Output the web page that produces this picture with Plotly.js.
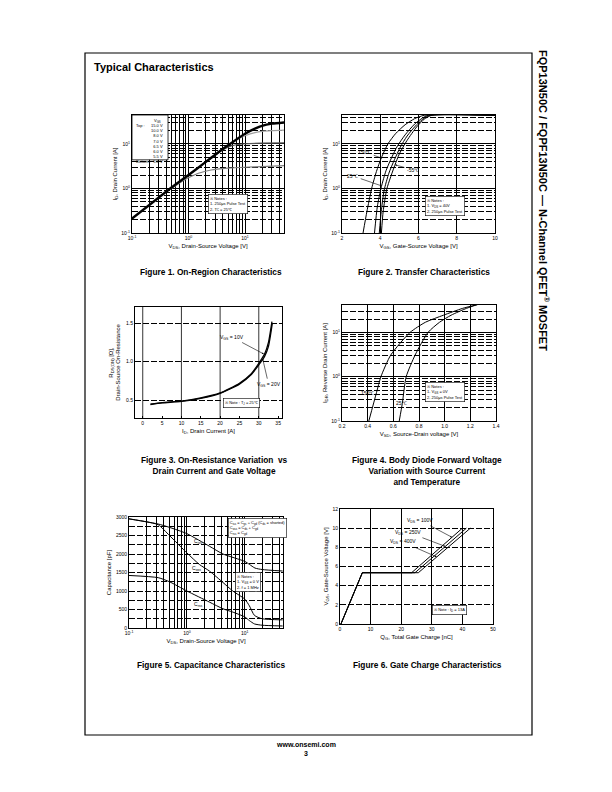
<!DOCTYPE html>
<html><head><meta charset="utf-8">
<script src="https://cdn.plot.ly/plotly-3.0.1.min.js"></script>
<style>html,body{margin:0;padding:0;background:#fff}#chart{width:612px;height:792px}</style>
</head><body><div id="chart"></div>
<script>
// ---------- DATA ----------
// Figure 1: On-Region characteristics (VGS curves)
const f1_vgs = ['15.0 V','10.0 V','8.0 V','7.0 V','6.5 V','6.0 V','5.5 V','5.0 V'];
const f1_top_x = [0.1,0.2,0.5,1,2,3,5,10,15,20,30,50];
const f1_top_y = [0.21,0.42,1.05,2.0,3.9,5.8,9.3,17,22,25.5,28.5,30.5];
const f1_c2_x = [3,5,7,10,15,20,30,50];
const f1_c2_y = [5.8,9.2,12.5,15.3,18,19.2,19.9,20.4];
const f1_c3_x = [2,3,4,5,7,10,20,50];
const f1_c3_y = [3.9,5.6,7.3,8.5,9.6,10.1,10.4,10.6];
const f1_c4_x = [0.5,0.8,1,1.5,2.5,5,10,20,50];
const f1_c4_y = [1.0,1.5,1.75,2.2,2.6,2.85,3.0,3.1,3.25];

// Figure 2: Transfer characteristics
const f2_150_x = [3.1,3.3,3.55,3.8,4.05,4.4,4.8,5.3,5.8,6.3,10];
const f2_150_y = [0.1,0.3,1,2.4,4.8,10,17,27,37,44,44];
const f2_25_x = [3.7,3.85,4.06,4.3,4.6,4.9,5.3,5.8,6.2,6.5,10];
const f2_25_y = [0.1,0.4,1.1,2.5,5,9,16,28,38,44,44];
const f2_25b_x = [3.95,4.05,4.2,4.45,4.75,5.05,5.4,5.9,6.3,6.6,10];
const f2_25b_y = [0.1,0.3,0.9,2.2,4.5,8.5,15,27,38,44,44];
const f2_m55_x = [4.06,4.15,4.35,4.76,5.0,5.4,5.9,6.3,6.7,10];
const f2_m55_y = [0.1,0.3,1.0,3.3,6,12,24,36,44,44];

// Figure 3: On-resistance vs drain current
const f3_10_x = [2,5,10,15,20,25,28,30,31.5,32.5,33.4];
const f3_10_y = [0.45,0.47,0.49,0.53,0.595,0.72,0.84,0.98,1.1,1.25,1.52];
const f3_20_x = [2,5,10,15,20,25,28,30,31.5,32.5,33.5];
const f3_20_y = [0.445,0.465,0.485,0.525,0.59,0.71,0.83,0.96,1.07,1.2,1.5];

// Figure 4: Body diode forward voltage
const f4_150_x = [0.409,0.469,0.503,0.58,0.73,0.85,0.99,1.14,1.26];
const f4_150_y = [0.1,0.44,1.0,3.1,10,17,24.5,35,43];
const f4_25_x = [0.646,0.67,0.70,0.77,0.87,0.96,1.05,1.17,1.26];
const f4_25_y = [0.1,0.25,1.0,3.1,10,17,24.5,35,43];

// Figure 5: Capacitance
const f5_ciss_x = [0.1,0.2,0.32,0.5,1,2.45,4.2,10,12,15,20,45];
const f5_ciss_y = [2950,2870,2810,2720,2550,2210,2000,1800,1720,1620,1580,1540];
const f5_coss_x = [0.1,0.2,0.32,0.5,1,1.65,2.45,4.2,6.2,10,12,14.7,20,45];
const f5_coss_y = [2950,2870,2790,2500,2030,1715,1540,1230,1000,780,600,340,250,220];
const f5_crss_x = [0.1,0.32,0.5,1,2.45,4.2,6.2,10,12,14.7,20,45];
const f5_crss_y = [1420,1360,1250,1000,700,520,430,300,200,110,75,55];

// Figure 6: Gate charge
const f6_100_x = [0.3,7.3,23.4,40];
const f6_100_y = [0,5.35,5.35,10];
const f6_250_x = [0.3,7.3,24.5,41.3];
const f6_250_y = [0,5.35,5.35,10];
const f6_400_x = [0.3,7.3,25.6,42.6];
const f6_400_y = [0,5.35,5.35,10];

// ---------- LAYOUT HELPERS ----------
const W=612,H=792;
const FONT='Liberation Sans, Arial, sans-serif';
const dx=(a,b)=>[a/W,b/W];
const dy=(top,bottom)=>[1-bottom/H,1-top/H];
const DASH='6px,2px';
const logMinor=(lo,hi)=>{const v=[];for(let e=lo;e<hi;e++){for(let m=2;m<=9;m++)v.push(m*Math.pow(10,e));}return v;};
const decTicks={tickvals:[0.1,1,10],ticktext:['10<sup>-1</sup>','10<sup>0</sup>','10<sup>1</sup>']};
function ax(o){
  return Object.assign({showline:true,mirror:true,linecolor:'#000',linewidth:1,ticks:'inside',ticklen:2,tickcolor:'#000',
    zeroline:false,tickfont:{family:FONT,size:5,color:'#000'},showgrid:true,gridcolor:'#000',gridwidth:0.8,
    tickmode:'array',fixedrange:true},o);
}
function ttl(t,s){return {text:t,font:{family:FONT,size:6,color:'#000'},standoff:s||3};}

function line(x,y,xa,ya,color,width){
  return {type:'scatter',mode:'lines',x:x,y:y,xaxis:xa,yaxis:ya,line:{color:color||'#000',width:width||1,shape:'spline',smoothing:0.6},hoverinfo:'skip',showlegend:false};
}

const traces=[
  line(f1_c4_x,f1_c4_y,'x','y','#808080',1.2),
  line(f1_c3_x,f1_c3_y,'x','y','#555',1.2),
  line(f1_c2_x,f1_c2_y,'x','y','#a0a0a0',1.2),
  line(f1_top_x,f1_top_y,'x','y','#000',2.4),
  line(f2_150_x,f2_150_y,'x2','y2'),
  line(f2_25_x,f2_25_y,'x2','y2'),
  line(f2_25b_x,f2_25b_y,'x2','y2'),
  line(f2_m55_x,f2_m55_y,'x2','y2'),
  line(f3_20_x,f3_20_y,'x3','y3','#000',1.3),
  line(f3_10_x,f3_10_y,'x3','y3','#000',1.3),
  line(f4_150_x,f4_150_y,'x4','y4'),
  line(f4_25_x,f4_25_y,'x4','y4'),
  line(f5_ciss_x,f5_ciss_y,'x5','y5'),
  line(f5_coss_x,f5_coss_y,'x5','y5'),
  line(f5_crss_x,f5_crss_y,'x5','y5'),
  {type:'scatter',mode:'lines',x:f6_100_x,y:f6_100_y,xaxis:'x6',yaxis:'y6',line:{color:'#000',width:1},hoverinfo:'skip',showlegend:false},
  {type:'scatter',mode:'lines',x:f6_250_x,y:f6_250_y,xaxis:'x6',yaxis:'y6',line:{color:'#000',width:1},hoverinfo:'skip',showlegend:false},
  {type:'scatter',mode:'lines',x:f6_400_x,y:f6_400_y,xaxis:'x6',yaxis:'y6',line:{color:'#000',width:1},hoverinfo:'skip',showlegend:false}
];

const minorSolid=(v)=>({tickvals:v,showgrid:true,gridcolor:'#000',gridwidth:0.8,ticks:''});
const minorDash=(v)=>({tickvals:v,showgrid:true,gridcolor:'#000',gridwidth:0.8,griddash:DASH,ticks:''});

const layout={
  width:W,height:H,margin:{l:0,r:0,t:0,b:0},paper_bgcolor:'#fff',plot_bgcolor:'#fff',showlegend:false,
  font:{family:FONT,color:'#000',size:6},
  // Fig 1
  xaxis:ax(Object.assign({type:'log',range:[-1,1.69],domain:dx(132,284),anchor:'y',minor:minorSolid(logMinor(-1,2)),
    title:ttl('V<sub>DS</sub>, Drain-Source Voltage [V]')},decTicks)),
  yaxis:ax(Object.assign({type:'log',range:[-1,1.65],domain:dy(115,233),anchor:'x',minor:minorDash(logMinor(-1,2)),
    title:ttl('I<sub>D</sub>, Drain Current [A]')},decTicks)),
  // Fig 2
  xaxis2:ax({range:[2,10],domain:dx(342,495),anchor:'y2',tickvals:[2,4,6,8,10],title:ttl('V<sub>GS</sub>, Gate-Source Voltage [V]')}),
  yaxis2:ax(Object.assign({type:'log',range:[-1,1.65],domain:dy(115,233),anchor:'x2',minor:minorDash(logMinor(-1,2)),
    title:ttl('I<sub>D</sub>, Drain Current [A]')},decTicks)),
  // Fig 3
  xaxis3:ax({range:[-2,36],domain:dx(135,282),anchor:'y3',tickvals:[0,5,10,15,20,25,30,35],showgrid:false,
    title:ttl('I<sub>D</sub>, Drain Current [A]')}),
  yaxis3:ax({range:[0.27,1.71],domain:dy(307,418),anchor:'x3',tickvals:[0.5,1.0,1.5],ticktext:['0.5','1.0','1.5'],griddash:DASH,
    title:ttl('R<sub>DS(ON)</sub> [Ω],<br>Drain-Source On-Resistance',4)}),
  // Fig 4
  xaxis4:ax({range:[0.2,1.4],domain:dx(342,496),anchor:'y4',tickvals:[0.2,0.4,0.6,0.8,1.0,1.2,1.4],
    ticktext:['0.2','0.4','0.6','0.8','1.0','1.2','1.4'],title:ttl('V<sub>SD</sub>, Source-Drain voltage [V]')}),
  yaxis4:ax(Object.assign({type:'log',range:[-1,1.62],domain:dy(305,421),anchor:'x4',minor:minorDash(logMinor(-1,2)),
    title:ttl('I<sub>DR</sub>, Reverse Drain Current [A]')},decTicks)),
  // Fig 5
  xaxis5:ax(Object.assign({type:'log',range:[-1,1.66],domain:dx(129,283),anchor:'y5',minor:minorSolid(logMinor(-1,2)),
    title:ttl('V<sub>DS</sub>, Drain-Source Voltage [V]')},decTicks)),
  yaxis5:ax({range:[0,3000],domain:dy(517,628),anchor:'x5',tickvals:[0,500,1000,1500,2000,2500,3000],griddash:DASH,
    minor:minorDash([250,750,1250,1750,2250,2750]),title:ttl('Capacitance [pF]')}),
  // Fig 6
  xaxis6:ax({range:[0,50],domain:dx(340,493),anchor:'y6',tickvals:[0,10,20,30,40,50],title:ttl('Q<sub>G</sub>, Total Gate Charge [nC]')}),
  yaxis6:ax({range:[0,12],domain:dy(509,624),anchor:'x6',tickvals:[0,2,4,6,8,10,12],griddash:DASH,
    title:ttl('V<sub>GS</sub>, Gate-Source Voltage [V]')}),
  shapes:[],annotations:[]
};

// page frame
layout.shapes.push({type:'rect',xref:'paper',yref:'paper',x0:85/W,x1:532/W,y0:1-735/H,y1:1-53/H,line:{color:'#000',width:1.2}});
// fig3 vertical grid lines every 10 A
[0,10,20,30].forEach(v=>layout.shapes.push({type:'line',xref:'x3',yref:'y3 domain',x0:v,x1:v,y0:0,y1:1,line:{color:'#000',width:0.8},layer:'below'}));
// fig1 legend box
layout.shapes.push({type:'rect',xref:'x domain',yref:'y domain',x0:0,x1:0.237,y0:0.62,y1:1,fillcolor:'#fff',line:{color:'#000',width:0.8}});

const A=layout.annotations;
const tf=(s)=>({family:FONT,size:s,color:'#000'});
function note(xr,yr,x,y,text,size){
  A.push({xref:xr,yref:yr,x:x,y:y,text:text,showarrow:false,align:'left',font:tf(size||4),bgcolor:'#fff',bordercolor:'#000',borderwidth:0.6,borderpad:1.5});
}
function label(xr,yr,x,y,text,axp,ayp,size){
  A.push({xref:xr,yref:yr,x:x,y:y,text:text,showarrow:true,ax:axp,ay:ayp,arrowhead:2,arrowsize:0.6,arrowwidth:0.6,arrowcolor:'#000',font:tf(size||5),standoff:0,startstandoff:1});
}
// Fig 1 legend
A.push({xref:'x domain',yref:'y domain',x:0.165,y:0.995,xanchor:'center',yanchor:'top',text:'V<sub>GS</sub>',showarrow:false,font:tf(4)});
A.push({xref:'x domain',yref:'y domain',x:0.215,y:0.95,xanchor:'right',yanchor:'top',text:f1_vgs.join('<br>'),showarrow:false,align:'right',font:tf(4)});
A.push({xref:'x domain',yref:'y domain',x:0.012,y:0.95,xanchor:'left',yanchor:'top',text:'Top :<br> <br> <br> <br> <br> <br> <br>Bottom :',showarrow:false,align:'left',font:tf(4)});
note('x domain','y domain',0.76,0.16,'※ Notes :<br>1. 250μs Pulse Test<br>2. T<sub>C</sub> = 25℃');
// Fig 2
label('x2','y2',4.08,Math.log10(4.8),'150℃',-17,-6);
label('x2','y2',4.08,Math.log10(1.14),'25℃',-29,-10);
label('x2','y2',4.77,Math.log10(3.4),'-55℃',18,5);
note('x2 domain','y2 domain',0.807,0.14,'※ Notes :<br>1. V<sub>DS</sub> = 40V<br>2. 250μs Pulse Test');
// Fig 3
label('x3','y3',31.3,1.1,'V<sub>GS</sub> = 10V',-32,-17);
label('x3','y3',31.0,1.04,'V<sub>GS</sub> = 20V',6,26);
note('x3 domain','y3 domain',0.85,0.09,'※ Note : T<sub>J</sub> = 25℃');
// Fig 4
label('x4','y4',0.47,Math.log10(0.44),'150℃',-9,0,5);
label('x4','y4',0.675,Math.log10(0.25),'25℃',-1,0,5);
note('x4 domain','y4 domain',0.8,0.16,'※ Notes :<br>1. V<sub>GS</sub> = 0V<br>2. 250μs Pulse Test');
// Fig 5
A.push({xref:'x5',yref:'y5',x:Math.log10(1.55),y:2330,text:'C<sub>iss</sub>',showarrow:false,font:tf(5)});
A.push({xref:'x5',yref:'y5',x:Math.log10(1.45),y:1600,text:'C<sub>oss</sub>',showarrow:false,font:tf(5)});
A.push({xref:'x5',yref:'y5',x:Math.log10(1.6),y:640,text:'C<sub>rss</sub>',showarrow:false,font:tf(5)});
A.push({xref:'x5 domain',yref:'y5 domain',x:0.645,y:0.99,xanchor:'left',yanchor:'top',align:'left',showarrow:false,font:tf(4),
  bgcolor:'#fff',bordercolor:'#000',borderwidth:0.6,borderpad:1.2,
  text:'C<sub>iss</sub> = C<sub>gs</sub> + C<sub>gd</sub> (C<sub>ds</sub> = shorted)<br>C<sub>oss</sub> = C<sub>ds</sub> + C<sub>gd</sub><br>C<sub>rss</sub> = C<sub>gd</sub>'});
note('x5 domain','y5 domain',0.855,0.32,'※ Notes :<br>1. V<sub>GS</sub> = 0 V<br>2. f = 1 MHz');
// Fig 6
label('x6','y6',36.6,9.05,'V<sub>DS</sub> = 100V',-32,-17);
label('x6','y6',34.4,8.1,'V<sub>DS</sub> = 250V',-37,-14);
label('x6','y6',31.6,7.0,'V<sub>DS</sub> = 400V',-34,-15);
note('x6 domain','y6 domain',0.83,0.08,'※ Note : I<sub>D</sub> = 13A');

// captions
function cap(x,y,text){A.push({xref:'paper',yref:'paper',x:x/W,y:1-y/H,yanchor:'top',xanchor:'center',text:text,showarrow:false,align:'center',font:tf(8.3)});}
cap(211,265,'<b>Figure 1. On-Region Characteristics</b>');
cap(424,265,'<b>Figure 2. Transfer Characteristics</b>');
cap(215,453,'<b>Figure 3. On-Resistance Variation  vs</b><br><b>Drain Current and Gate Voltage</b>');
cap(427,453,'<b>Figure 4. Body Diode Forward Voltage</b><br><b>Variation with Source Current</b><br><b>and Temperature</b>');
cap(211,658,'<b>Figure 5. Capacitance Characteristics</b>');
cap(427,658,'<b>Figure 6. Gate Charge Characteristics</b>');
// page title, side title, footer
A.push({xref:'paper',yref:'paper',x:92/W,y:1-67/H,xanchor:'left',yanchor:'middle',text:'<b>Typical Characteristics</b>',showarrow:false,font:tf(11)});
A.push({xref:'paper',yref:'paper',x:544/W,y:1-200/H,xanchor:'center',yanchor:'middle',textangle:90,text:'<b>FQP13N50C / FQPF13N50C — N-Channel QFET<sup>®</sup> MOSFET</b>',showarrow:false,font:tf(11)});
A.push({xref:'paper',yref:'paper',x:306/W,y:1-744/H,xanchor:'center',yanchor:'middle',text:'<b>www.onsemi.com</b>',showarrow:false,font:tf(7)});
A.push({xref:'paper',yref:'paper',x:306/W,y:1-753/H,xanchor:'center',yanchor:'middle',text:'<b>3</b>',showarrow:false,font:tf(7)});

Plotly.newPlot('chart',traces,layout,{displayModeBar:false,responsive:false});
</script></body></html>
